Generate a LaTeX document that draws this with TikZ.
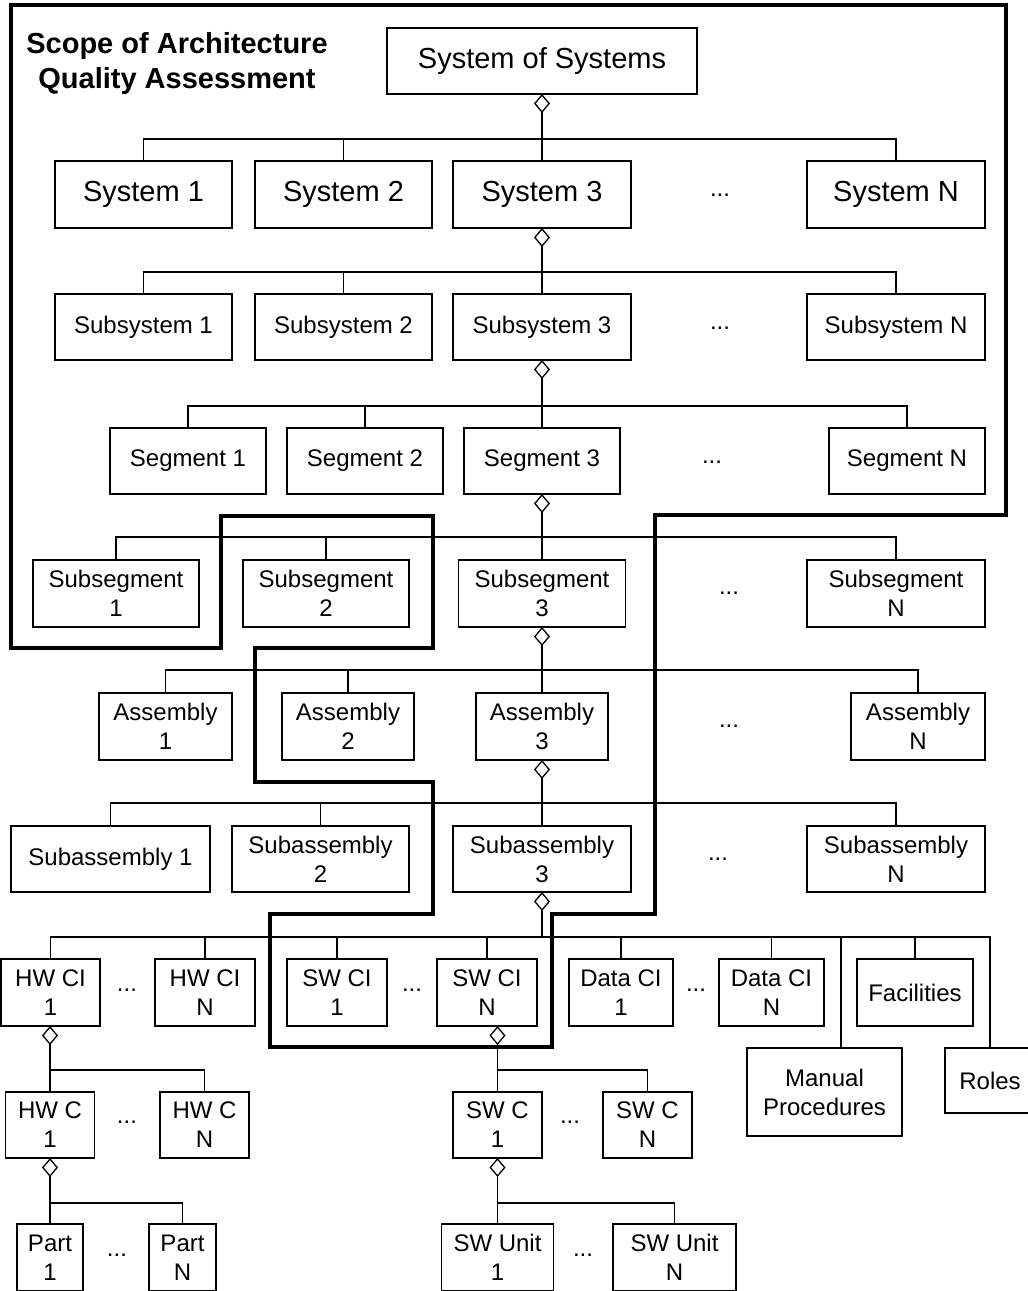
\documentclass[tikz,border=0pt]{standalone}
\usepackage{fontspec}
\setmainfont{Liberation Sans}
\usetikzlibrary{arrows.meta}
\begin{document}
\begin{tikzpicture}[x=1pt,y=-1pt,
  box/.style={draw, line width=1.4pt, inner sep=0pt, outer sep=0pt, align=center,
              font=\fontsize{24}{29}\selectfont},
  bigbox/.style={box, font=\fontsize{29}{34}\selectfont},
  wh/.style 2 args={minimum width=#1, minimum height=#2},
  dots/.style={inner sep=0pt, font=\fontsize{24}{29}\selectfont},
  link/.style={line width=1.3pt},
  agg/.style={link, {Diamond[open,length=19pt,width=16pt]}-},
  scopeline/.style={line width=4.4pt, line join=miter},
  ]
\useasboundingbox (0,0) rectangle (1028,1291);

% bus levels
\coordinate (b1) at (0,139);
\coordinate (b2) at (0,272);
\coordinate (b3) at (0,406);
\coordinate (b4) at (0,537);
\coordinate (b5) at (0,670);
\coordinate (b6) at (0,803);
\coordinate (b7) at (0,937);
\coordinate (b8) at (0,1070);
\coordinate (b9) at (0,1203);

% title
\node[align=center, inner sep=0pt, font=\bfseries\fontsize{29}{35}\selectfont] (title) at (177,63)
  {Scope of Architecture\\Quality Assessment};

% top
\node[bigbox, wh={310}{66}] (sos) at (542,61) {System of Systems};

% systems
\node[bigbox, wh={177}{67}] (s1) at (143.5,194.5) {System 1};
\node[bigbox, wh={177}{67}] (s2) at (343.5,194.5) {System 2};
\node[bigbox, wh={178}{67}] (s3) at (542,194.5) {System 3};
\node[bigbox, wh={178}{67}] (sN) at (896,194.5) {System N};
\node[dots] (sd) at (720,195.5) {...};

% subsystems
\node[box, wh={177}{66}] (ss1) at (143.5,327) {Subsystem 1};
\node[box, wh={177}{66}] (ss2) at (343.5,327) {Subsystem 2};
\node[box, wh={178}{66}] (ss3) at (542,327) {Subsystem 3};
\node[box, wh={178}{66}] (ssN) at (896,327) {Subsystem N};
\node[dots] (ssd) at (720,328) {...};

% segments
\node[box, wh={156}{66}] (seg1) at (188,461) {Segment 1};
\node[box, wh={156}{66}] (seg2) at (365,461) {Segment 2};
\node[box, wh={156}{66}] (seg3) at (542,461) {Segment 3};
\node[box, wh={156}{66}] (segN) at (907,461) {Segment N};
\node[dots] (segd) at (712,462) {...};

% subsegments
\node[box, wh={166}{67}] (sub1) at (116,593.5) {Subsegment\\1};
\node[box, wh={166}{67}] (sub2) at (326,593.5) {Subsegment\\2};
\node[box, wh={167}{67}] (sub3) at (542,593.5) {Subsegment\\3};
\node[box, wh={178}{67}] (subN) at (896,593.5) {Subsegment\\N};
\node[dots] (subd) at (729,593.5) {...};

% assemblies
\node[box, wh={133}{67}] (a1) at (165.5,726.5) {Assembly\\1};
\node[box, wh={132}{67}] (a2) at (348,726.5) {Assembly\\2};
\node[box, wh={132}{67}] (a3) at (542,726.5) {Assembly\\3};
\node[box, wh={134}{67}] (aN) at (918,726.5) {Assembly\\N};
\node[dots] (ad) at (729,726.5) {...};

% subassemblies
\node[box, wh={199}{66}] (sa1) at (110.5,859) {Subassembly 1};
\node[box, wh={177}{66}] (sa2) at (320.5,859) {Subassembly\\2};
\node[box, wh={178}{66}] (sa3) at (542,859) {Subassembly\\3};
\node[box, wh={178}{66}] (saN) at (896,859) {Subassembly\\N};
\node[dots] (sad) at (718,859) {...};

% configuration items
\node[box, wh={99}{67}]  (hw1) at (50.5,992.5) {HW CI\\1};
\node[box, wh={100}{67}] (hwN) at (205,992.5) {HW CI\\N};
\node[box, wh={100}{67}] (sw1) at (337,992.5) {SW CI\\1};
\node[box, wh={100}{67}] (swN) at (487,992.5) {SW CI\\N};
\node[box, wh={104}{67}] (dc1) at (621,992.5) {Data CI\\1};
\node[box, wh={105}{67}] (dcN) at (771.5,992.5) {Data CI\\N};
\node[box, wh={116}{67}] (fac) at (915,992.5) {Facilities};
\node[box, wh={155}{88}] (man) at (824.5,1092) {Manual\\Procedures};
\node[box, wh={90}{65}]  (roles) at (990,1080.5) {Roles};
\node[dots] (hwd) at (127,990) {...};
\node[dots] (swd) at (412,990) {...};
\node[dots] (dcd) at (696,990) {...};

% components
\node[box, wh={89}{66}] (hc1) at (50,1125) {HW C\\1};
\node[box, wh={89}{66}] (hcN) at (204.5,1125) {HW C\\N};
\node[box, wh={89}{66}] (swc1) at (497.5,1125) {SW C\\1};
\node[box, wh={89}{66}] (swcN) at (647.5,1125) {SW C\\N};
\node[dots] (hcd) at (127,1122) {...};
\node[dots] (swcd) at (570,1122) {...};

% parts and units
\node[box, wh={66}{67}]  (p1) at (50,1257.5) {Part\\1};
\node[box, wh={67}{67}]  (pN) at (182.5,1257.5) {Part\\N};
\node[box, wh={112}{67}] (su1) at (497.5,1257.5) {SW Unit\\1};
\node[box, wh={123}{67}] (suN) at (674.5,1257.5) {SW Unit\\N};
\node[dots] (pd) at (117,1255) {...};
\node[dots] (sud) at (583,1255) {...};

% aggregation links
\draw[agg] (sos.south) -- (s3.north);
\draw[agg] (s3.south) -- (ss3.north);
\draw[agg] (ss3.south) -- (seg3.north);
\draw[agg] (seg3.south) -- (sub3.north);
\draw[agg] (sub3.south) -- (a3.north);
\draw[agg] (a3.south) -- (sa3.north);
\draw[agg] (sa3.south) -- (sa3.south |- b7);
\draw[agg] (hc1.north |- hw1.south) -- (hc1.north);
\draw[agg] (swc1.north |- swN.south) -- (swc1.north);
\draw[agg] (hc1.south) -- (p1.north);
\draw[agg] (swc1.south) -- (su1.north);

% buses and drops
\draw[link] (s1.north) |- (sN.north |- b1) -- (sN.north);
\draw[link] (s2.north) -- (s2.north |- b1);

\draw[link] (ss1.north) |- (ssN.north |- b2) -- (ssN.north);
\draw[link] (ss2.north) -- (ss2.north |- b2);

\draw[link] (seg1.north) |- (segN.north |- b3) -- (segN.north);
\draw[link] (seg2.north) -- (seg2.north |- b3);

\draw[link] (sub1.north) |- (subN.north |- b4) -- (subN.north);
\draw[link] (sub2.north) -- (sub2.north |- b4);

\draw[link] (a1.north) |- (aN.north |- b5) -- (aN.north);
\draw[link] (a2.north) -- (a2.north |- b5);

\draw[link] (sa1.north) |- (saN.north |- b6) -- (saN.north);
\draw[link] (sa2.north) -- (sa2.north |- b6);

\draw[link] (hw1.north) |- (roles.north |- b7) -- (roles.north);
\foreach \n in {hwN,sw1,swN,dc1,dcN,fac}
  \draw[link] (\n.north) -- (\n.north |- b7);
\draw[link] ([xshift=16.5pt]man.north) -- ([xshift=16.5pt]man.north |- b7);

\draw[link] (hc1.north |- b8) -| (hcN.north);
\draw[link] (swc1.north |- b8) -| (swcN.north);
\draw[link] (p1.north |- b9) -| (pN.north);
\draw[link] (su1.north |- b9) -| (suN.north);

% assessment scope outline
\draw[scopeline] (11,5) -- (1006,5) -- (1006,515) -- (655,515) -- (655,914)
  -- (552,914) -- (552,1047) -- (270,1047) -- (270,914) -- (433,914)
  -- (433,782) -- (255,782) -- (255,648) -- (433,648) -- (433,516)
  -- (221,516) -- (221,648) -- (11,648) -- cycle;
\end{tikzpicture}
\end{document}
